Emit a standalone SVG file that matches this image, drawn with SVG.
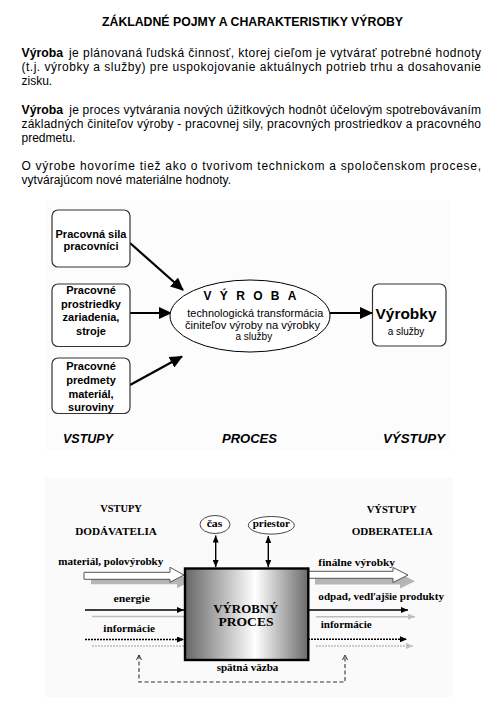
<svg xmlns="http://www.w3.org/2000/svg" width="485" height="717" viewBox="0 0 485 717">
<style>
.p{font-family:"Liberation Sans",Arial,sans-serif;font-size:12px;fill:#000}
.b{font-weight:bold}
.bx{fill:#fff;stroke:#333;stroke-width:1.2}
.lb{font-family:"Liberation Sans",Arial,sans-serif;font-size:11px;font-weight:bold;text-anchor:middle}
.sm{font-family:"Liberation Sans",Arial,sans-serif;font-size:10px;text-anchor:middle}
.hd{font-family:"Liberation Sans",Arial,sans-serif;font-size:13px;font-weight:bold;font-style:italic;text-anchor:middle}
.t{font-family:"Liberation Serif","Times New Roman",serif;font-size:9.5px;font-weight:bold;text-anchor:middle}
.c1{stroke:#000;stroke-width:2.2;fill:none}
.k{stroke:#000;stroke-width:1.4;fill:none}
.g{stroke:#bdbdbd;stroke-width:1.4;fill:none}
.dt{stroke-dasharray:2,1}
.fb{stroke:#333;stroke-width:1.1;fill:none;stroke-dasharray:4,2.5}
</style>
<defs>
<marker id="ah" markerUnits="userSpaceOnUse" markerWidth="14" markerHeight="12" refX="12" refY="6" orient="auto"><path d="M0,0 L13,6 L0,12 z" fill="#000"/></marker>
<marker id="sa" markerUnits="userSpaceOnUse" markerWidth="8" markerHeight="6" refX="7" refY="3" orient="auto-start-reverse"><path d="M0,0 L7,3 L0,6 z" fill="#000"/></marker>
<marker id="ga" markerUnits="userSpaceOnUse" markerWidth="8" markerHeight="6" refX="7" refY="3" orient="auto"><path d="M0,0 L7,3 L0,6 z" fill="#bdbdbd"/></marker>
<marker id="oa" markerUnits="userSpaceOnUse" markerWidth="6" markerHeight="6" refX="5" refY="3" orient="auto-start-reverse"><path d="M0,0.5 L5,3 L0,5.5" fill="none" stroke="#333" stroke-width="1"/></marker>
<linearGradient id="grad" x1="0" y1="0" x2="1" y2="0">
<stop offset="0" stop-color="#666"/>
<stop offset="0.57" stop-color="#fff"/>
<stop offset="1" stop-color="#6a6a6a"/>
</linearGradient>
</defs>
<rect width="485" height="717" fill="#fff"/>
<rect x="45" y="200" width="405" height="250" fill="#fcfcfc"/>
<rect x="45" y="478" width="408" height="219" fill="#fafafa"/>

<g id="intro">
<text class="p b" x="102" y="26" textLength="301" lengthAdjust="spacingAndGlyphs">ZÁKLADNÉ POJMY A CHARAKTERISTIKY VÝROBY</text>
<text class="p b" x="21.5" y="56.5" textLength="41.5" lengthAdjust="spacingAndGlyphs">Výroba</text>
<text class="p" x="69" y="56.5" textLength="412" lengthAdjust="spacing">je plánovaná ľudská činnosť, ktorej cieľom je vytvárať potrebné hodnoty</text>
<text class="p" x="21.5" y="70.5" textLength="459.5" lengthAdjust="spacing">(t.j. výrobky a služby) pre uspokojovanie aktuálnych potrieb trhu a dosahovanie</text>
<text class="p" x="21.5" y="84.5">zisku.</text>
<text class="p b" x="21.5" y="114" textLength="41.5" lengthAdjust="spacingAndGlyphs">Výroba</text>
<text class="p" x="69.3" y="114" textLength="411.7" lengthAdjust="spacing">je proces vytvárania nových úžitkových hodnôt účelovým spotrebovávaním</text>
<text class="p" x="21.5" y="128" textLength="459.5" lengthAdjust="spacing">základných činiteľov výroby - pracovnej sily, pracovných prostriedkov a pracovného</text>
<text class="p" x="21.5" y="142">predmetu.</text>
<text class="p" x="21.5" y="170" textLength="459.5" lengthAdjust="spacing">O výrobe hovoríme tiež ako o tvorivom technickom a spoločenskom procese,</text>
<text class="p" x="21.5" y="184" textLength="209.5" lengthAdjust="spacing">vytvárajúcom nové materiálne hodnoty.</text>
</g>

<g id="d1-connectors">
<line class="c1" x1="130" y1="243" x2="183" y2="290" marker-end="url(#ah)"/>
<line class="c1" x1="130" y1="313" x2="171" y2="313" marker-end="url(#ah)"/>
<line class="c1" x1="130" y1="385" x2="182" y2="356.5" marker-end="url(#ah)"/>
<line class="c1" x1="330" y1="313" x2="372" y2="313" marker-end="url(#ah)"/>
</g>

<g id="n-sila">
<rect class="bx" x="52" y="210" width="78" height="57" rx="6"/>
<text class="lb" x="91" y="237.5">Pracovná sila</text>
<text class="lb" x="91" y="250">pracovníci</text>
</g>
<g id="n-prostriedky">
<rect class="bx" x="52" y="284" width="78" height="62.5" rx="6"/>
<text class="lb" x="91" y="294">Pracovné</text>
<text class="lb" x="91" y="307.5">prostriedky</text>
<text class="lb" x="91" y="321">zariadenia,</text>
<text class="lb" x="91" y="335">stroje</text>
</g>
<g id="n-predmety">
<rect class="bx" x="52" y="358" width="78" height="55.5" rx="6"/>
<text class="lb" x="91" y="369.5">Pracovné</text>
<text class="lb" x="91" y="383.5">predmety</text>
<text class="lb" x="91" y="397.5">materiál,</text>
<text class="lb" x="91" y="410.5">suroviny</text>
</g>
<g id="n-vyroba">
<ellipse cx="250" cy="316" rx="80" ry="36" fill="#fff" stroke="#000" stroke-width="1"/>
<text class="lb" x="203.5" y="299.5" style="font-size:12px;text-anchor:start" textLength="93" lengthAdjust="spacing">VÝROBA</text>
<text class="sm" x="255.3" y="317" textLength="136" lengthAdjust="spacingAndGlyphs">technologická transformácia</text>
<text class="sm" x="252.5" y="328.5" textLength="135" lengthAdjust="spacingAndGlyphs">činiteľov výroby na výrobky</text>
<text class="sm" x="253.8" y="340">a služby</text>
</g>
<g id="n-vyrobky">
<rect class="bx" x="372.5" y="284" width="73.5" height="62" rx="6"/>
<text class="lb" x="406" y="319" style="font-size:15px" textLength="61" lengthAdjust="spacingAndGlyphs">Výrobky</text>
<text class="sm" x="406" y="334.5">a služby</text>
</g>
<g id="d1-labels">
<text class="hd" x="88" y="443" textLength="50" lengthAdjust="spacingAndGlyphs">VSTUPY</text>
<text class="hd" x="249.5" y="443" textLength="55" lengthAdjust="spacingAndGlyphs">PROCES</text>
<text class="hd" x="414" y="443" textLength="62" lengthAdjust="spacingAndGlyphs">VÝSTUPY</text>
</g>

<g id="d2-labels">
<text class="t" x="121" y="511.5" textLength="41.7" lengthAdjust="spacingAndGlyphs">VSTUPY</text>
<text class="t" x="116" y="534.5" textLength="81.7" lengthAdjust="spacingAndGlyphs">DODÁVATELIA</text>
<text class="t" x="391.7" y="512.5" textLength="50" lengthAdjust="spacingAndGlyphs">VÝSTUPY</text>
<text class="t" x="392.2" y="535" textLength="81" lengthAdjust="spacingAndGlyphs">ODBERATELIA</text>
<text class="t" x="110.8" y="564.5" textLength="105" lengthAdjust="spacingAndGlyphs">materiál, polovýrobky</text>
<text class="t" x="131.7" y="602" textLength="36.5" lengthAdjust="spacingAndGlyphs">energie</text>
<text class="t" x="129.2" y="631.5" textLength="51.7" lengthAdjust="spacingAndGlyphs">informácie</text>
<text class="t" x="356.7" y="566" textLength="76.7" lengthAdjust="spacingAndGlyphs">finálne výrobky</text>
<text class="t" x="381.2" y="600" textLength="125.7" lengthAdjust="spacingAndGlyphs">odpad, vedľajšie produkty</text>
<text class="t" x="346.2" y="627.5" textLength="51" lengthAdjust="spacingAndGlyphs">informácie</text>
<text class="t" x="247.5" y="670.5" textLength="61.7" lengthAdjust="spacingAndGlyphs">spätná väzba</text>
</g>

<g id="d2-connectors">
<path d="M91,578.3 H177 V573.3 L191,581 L177,588.3 V584.3 H91 Z" fill="#b5b5b5"/>
<path d="M84,572.3 H170 V567.3 L184,575 L170,582.3 V579.3 H84 Z" fill="#fff" stroke="#444" stroke-width="0.9"/>
<path d="M315,578.3 H400 V573.5 L415,581.2 L400,588.5 V584.5 H315 Z" fill="#b5b5b5"/>
<path d="M308,571.3 H393 V567.5 L408,575 L393,582.5 V578.3 H308 Z" fill="#fff" stroke="#444" stroke-width="0.9"/>
<line class="g" x1="92" y1="616.5" x2="184" y2="616.5"/>
<line class="k" x1="85" y1="610" x2="184" y2="610" marker-end="url(#sa)"/>
<line class="g dt" x1="92" y1="646" x2="184" y2="646"/>
<line class="k dt" x1="85" y1="639.5" x2="184" y2="639.5" marker-end="url(#sa)"/>
<line class="g" x1="316" y1="616.7" x2="415" y2="616.7" marker-end="url(#ga)"/>
<line class="k" x1="308" y1="610" x2="408" y2="610" marker-end="url(#sa)"/>
<line class="g dt" x1="316" y1="646" x2="413" y2="646" marker-end="url(#ga)"/>
<line class="k dt" x1="308" y1="639.3" x2="407" y2="639.3" marker-end="url(#sa)"/>
<line class="k" x1="215.7" y1="535.5" x2="215.7" y2="567" stroke-width="1.2" marker-start="url(#sa)" marker-end="url(#sa)"/>
<line class="k" x1="268.3" y1="536" x2="268.3" y2="567" stroke-width="1.2" marker-start="url(#sa)" marker-end="url(#sa)"/>
<path class="fb" d="M139,655 V682 H345 V655" marker-start="url(#oa)" marker-end="url(#oa)"/>
</g>

<g id="n-proces">
<rect x="185" y="568.5" width="123.3" height="91.5" fill="url(#grad)" stroke="#000" stroke-width="2.4"/>
<text class="t" x="245.8" y="612.5" style="font-size:12.5px" textLength="65" lengthAdjust="spacingAndGlyphs">VÝROBNÝ</text>
<text class="t" x="246" y="625.5" style="font-size:12.5px" textLength="55" lengthAdjust="spacingAndGlyphs">PROCES</text>
</g>
<g id="n-cas">
<ellipse cx="215" cy="524.5" rx="15" ry="9" fill="#fff" stroke="#333" stroke-width="0.9"/>
<text class="t" x="214.5" y="527" textLength="15.7" lengthAdjust="spacingAndGlyphs">čas</text>
</g>
<g id="n-priestor">
<ellipse cx="271.3" cy="525.3" rx="23" ry="8.8" fill="#fff" stroke="#333" stroke-width="0.9"/>
<text class="t" x="271.3" y="527" textLength="37.3" lengthAdjust="spacingAndGlyphs">priestor</text>
</g>
</svg>
